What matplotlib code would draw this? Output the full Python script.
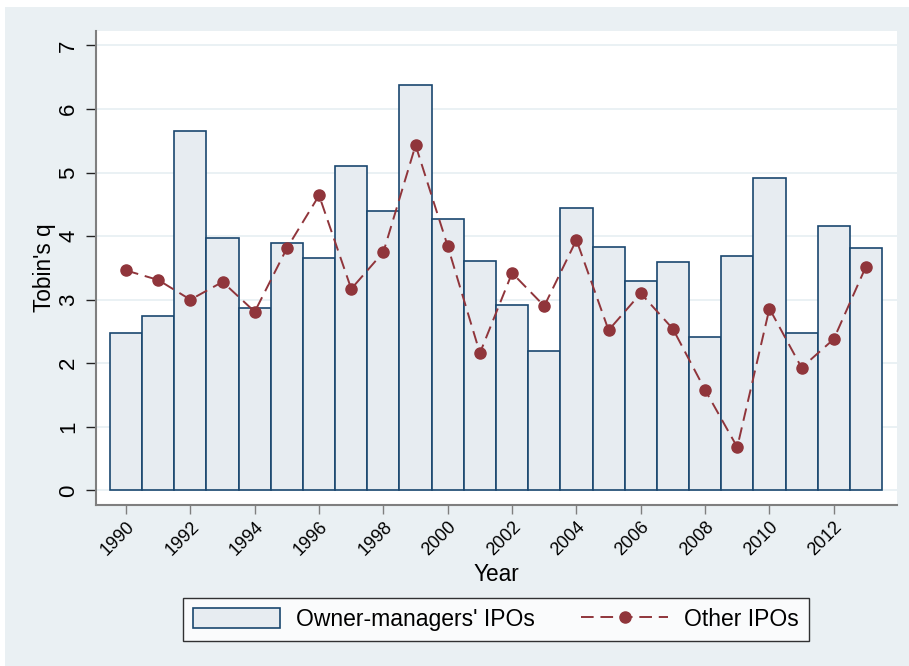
import matplotlib
matplotlib.use("Agg")
import matplotlib.pyplot as plt
from matplotlib.patches import Rectangle

plt.rcParams['font.family'] = ['Liberation Sans', 'DejaVu Sans']

years = list(range(1990, 2014))
owner_managers = [2.48, 2.75, 5.66, 3.97, 2.87, 3.89, 3.65, 5.10, 4.40, 6.37, 4.27, 3.61,
                  2.91, 2.20, 4.45, 3.83, 3.30, 3.60, 2.42, 3.68, 4.92, 2.47, 4.16, 3.82]
other_ipos = [3.46, 3.31, 3.00, 3.28, 2.81, 3.81, 4.64, 3.17, 3.75, 5.43, 3.84, 2.16,
              3.42, 2.90, 3.94, 2.52, 3.10, 2.54, 1.58, 0.68, 2.86, 1.93, 2.38, 3.52]
xticks = list(range(1990, 2014, 2))
yticks = list(range(0, 8))

W, H = 909, 666
fig = plt.figure(figsize=(W / 100, H / 100), dpi=100, facecolor='white')
bg = '#EAF0F3'
fig.patches.append(Rectangle((5 / W, 0), 1 - 5 / W, 1 - 7 / H, transform=fig.transFigure,
                             facecolor=bg, edgecolor='none', zorder=-10))

ax = fig.add_axes([96 / W, 1 - 505 / H, (897 - 96) / W, (505 - 31) / H])
ax.set_facecolor('white')

bars = ax.bar(years, owner_managers, width=1.0, color='#E7ECF1', edgecolor='#1A476F',
              linewidth=1.2, zorder=2, label="Owner-managers' IPOs")
line, = ax.plot(years, other_ipos, color='#90353B', linestyle=(0, (6.5, 3.5)), linewidth=1.4,
                marker='o', markersize=8, zorder=3, label='Other IPOs')

ax.set_xlim(1989.065, 2013.966)
ax.set_ylim(-0.23, 7.227)
ax.set_yticks(yticks)
ax.set_xticks(xticks)
ax.yaxis.grid(True, color='#E8F0F3', linewidth=1.3, zorder=0)
ax.set_axisbelow(True)

for s in ['top', 'right']:
    ax.spines[s].set_visible(False)
for s in ['left', 'bottom']:
    ax.spines[s].set_color('#7F7F7F')
    ax.spines[s].set_linewidth(1.5)

ax.tick_params(axis='y', length=7, width=1, color='#222222', pad=5, labelsize=16,
               labelrotation=90)
for lab in ax.get_yticklabels():
    lab.set_va('center')
ax.tick_params(axis='x', length=6.5, width=1, color='#7F7F7F', pad=3, labelsize=13)
for lab in ax.get_xticklabels():
    lab.set_rotation(45)
    lab.set_ha('right')
    lab.set_va('top')
    lab.set_rotation_mode('anchor')

ax.set_ylabel("Tobin's q", fontsize=16.3, labelpad=2)
ax.set_xlabel('Year', fontsize=16.3, labelpad=3)

leg = ax.legend(handles=[bars, line], loc='center', bbox_to_anchor=(496 / W, 1 - 619.5 / H),
                bbox_transform=fig.transFigure, ncol=2, fontsize=16.5,
                frameon=True, fancybox=False, edgecolor='black',
                handlelength=3.8, handleheight=1.0, handletextpad=0.7,
                columnspacing=2.0, borderpad=0.45, numpoints=1)
leg.get_frame().set_linewidth(1.0)
leg.get_frame().set_facecolor('white')

fig.savefig('out.png', dpi=100, facecolor=fig.get_facecolor())
